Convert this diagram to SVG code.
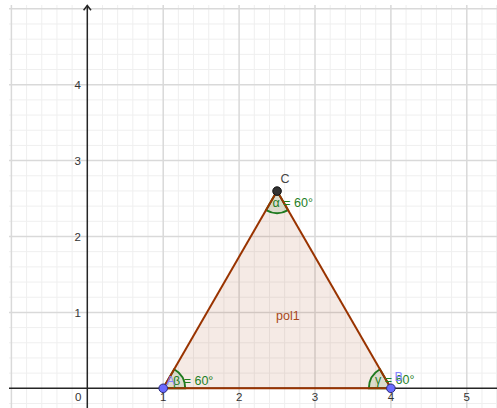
<svg xmlns="http://www.w3.org/2000/svg" width="497" height="408" viewBox="0 0 497 408">
<style>
.minor{stroke:#efefef;stroke-width:1;fill:none}
.major{stroke:#d9d9d9;stroke-width:1.5;fill:none}
.axis{stroke:#252525;stroke-width:1.5;fill:none}
.tick{font-family:"Liberation Sans",Arial,sans-serif;font-size:11.5px;fill:#333}
.lbl{font-family:"Liberation Sans",Arial,sans-serif;font-size:12.5px}
.ang{fill:rgba(0,100,0,0.1);stroke:#1f7a1f;stroke-width:2}
.angt{fill:#1f7f1f}
.edge{stroke:#993300;stroke-width:2;fill:none}
</style>
<defs>
<clipPath id="area"><rect x="9" y="5" width="488" height="403"/></clipPath>
</defs>
<rect width="497" height="408" fill="#ffffff"/>
<g id="grid" clip-path="url(#area)">
<path class="minor" d="M26.58 0V408M41.76 0V408M56.94 0V408M72.12 0V408M102.48 0V408M117.66 0V408M132.84 0V408M148.02 0V408M178.38 0V408M193.56 0V408M208.74 0V408M223.92 0V408M254.28 0V408M269.46 0V408M284.64 0V408M299.82 0V408M330.18 0V408M345.36 0V408M360.54 0V408M375.72 0V408M406.08 0V408M421.26 0V408M436.44 0V408M451.62 0V408M481.98 0V408M496.5 0V408"/>
<path class="minor" d="M0 403.48H497M0 373.12H497M0 357.94H497M0 342.76H497M0 327.58H497M0 297.22H497M0 282.04H497M0 266.86H497M0 251.68H497M0 221.32H497M0 206.14H497M0 190.96H497M0 175.78H497M0 145.42H497M0 130.24H497M0 115.06H497M0 99.88H497M0 69.52H497M0 54.34H497M0 39.16H497M0 23.98H497"/>
<path class="major" d="M11.4 0V408M163.2 0V408M239.1 0V408M315 0V408M390.9 0V408M466.8 0V408M0 312.4H497M0 236.5H497M0 160.6H497M0 84.7H497M0 8.8H497"/>
</g>
<g id="axes">
<path class="axis" d="M9 388.3H497M87.3 408V5.5"/>
<path class="axis" d="M83.6 10.2L87.3 5.5L91 10.2" stroke-linejoin="miter"/>
<text class="tick" x="81" y="89" text-anchor="end">4</text>
<text class="tick" x="81" y="165" text-anchor="end">3</text>
<text class="tick" x="81" y="241" text-anchor="end">2</text>
<text class="tick" x="81" y="316.5" text-anchor="end">1</text>
<text class="tick" x="81.5" y="401" text-anchor="end">0</text>
<text class="tick" x="163.2" y="401" text-anchor="middle">1</text>
<text class="tick" x="239.1" y="401" text-anchor="middle">2</text>
<text class="tick" x="315" y="401" text-anchor="middle">3</text>
<text class="tick" x="390.9" y="401" text-anchor="middle">4</text>
<text class="tick" x="466.8" y="401" text-anchor="middle">5</text>
</g>
<g id="pol1">
<polygon points="163.2,388.3 390.9,388.3 277.05,191.1" fill="rgba(153,51,0,0.1)" stroke="none"/>
<text class="lbl" x="276" y="320" fill="#a8481c">pol1</text>
</g>
<g id="angles">
<g id="beta">
<path class="ang" d="M163.2 388.3L185.2 388.3A22 22 0 0 0 174.2 369.25Z"/>
</g>
<g id="gamma">
<path class="ang" d="M390.9 388.3L379.9 369.25A22 22 0 0 0 368.9 388.3Z"/>
</g>
<g id="alpha">
<path class="ang" d="M277.05 191.1L266.05 210.15A22 22 0 0 0 288.05 210.15Z"/>
</g>
</g>
<g id="connectors">
<path class="edge" d="M163.2 388.3L390.9 388.3"/>
<path class="edge" d="M390.9 388.3L277.05 191.1"/>
<path class="edge" d="M277.05 191.1L163.2 388.3"/>
</g>
<g id="angle-labels">
<text class="lbl angt" x="173" y="384.5">β = 60°</text>
<text class="lbl angt" x="375" y="384">γ = 60°</text>
<text class="lbl angt" x="272.5" y="206.5">α = 60°</text>
</g>
<g id="A">
<circle cx="163.2" cy="388.3" r="4.3" fill="#6a6aff" stroke="#2a2a7a" stroke-width="1"/>
<text class="lbl" x="166.5" y="384.5" fill="#8484ff">A</text>
</g>
<g id="B">
<circle cx="390.9" cy="388.3" r="4.3" fill="#6a6aff" stroke="#2a2a7a" stroke-width="1"/>
<text class="lbl" x="394.5" y="380.5" fill="#8484ff">B</text>
</g>
<g id="C">
<circle cx="277.05" cy="191.1" r="4.3" fill="#333333" stroke="#111111" stroke-width="1"/>
<text class="lbl" x="280.5" y="183" fill="#444444">C</text>
</g>
</svg>
